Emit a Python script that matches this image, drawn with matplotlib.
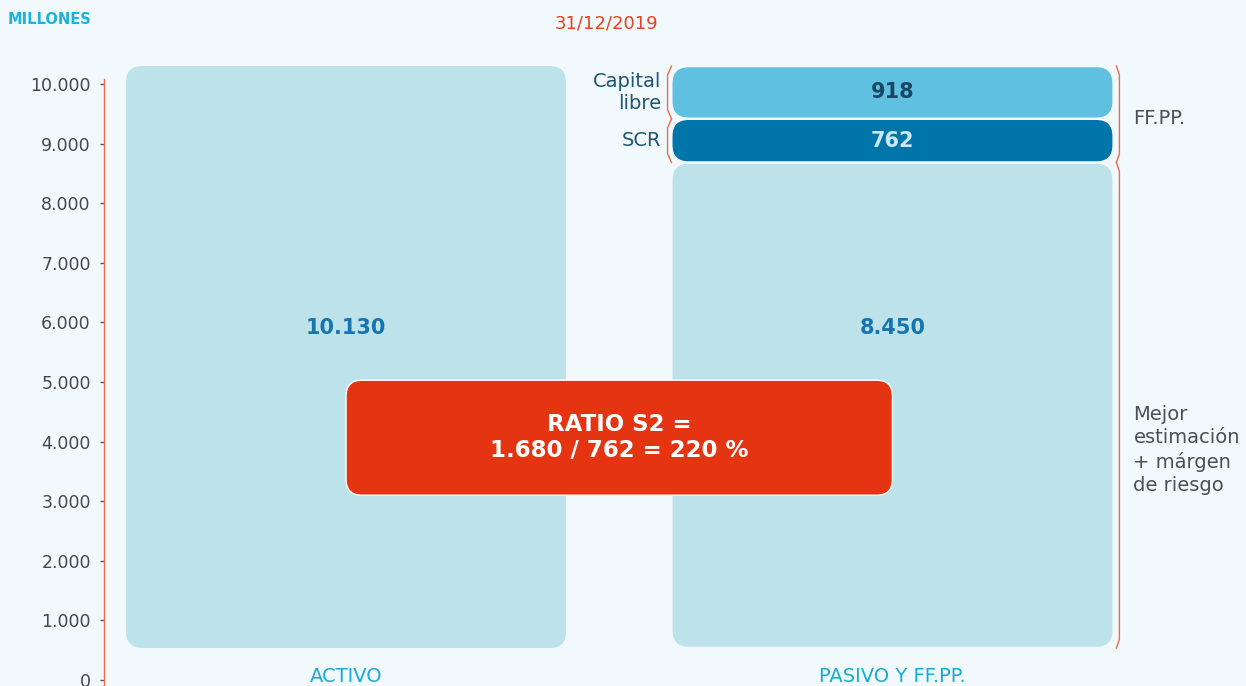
import matplotlib.pyplot as plt
from matplotlib.patches import FancyBboxPatch

# datos (millones de euros) a 31/12/2019
categories = ['ACTIVO', 'PASIVO Y FF.PP.']
activo = 10130
pasivo_names = ['Mejor estimación', 'SCR', 'Capital libre']
pasivo_vals = [8450, 762, 918]
y_ticks = [0, 1000, 2000, 3000, 4000, 5000, 6000, 7000, 8000, 9000, 10000]

BG = '#f2f9fc'
LIGHT = '#bee2ea'
seg_colors = [LIGHT, '#0075aa', '#5fc1df']
seg_text = ['#1675b0', '#c9e8f2', '#1b4766']
RED = '#e53411'


def fmt(v):
    return f"{v:,}".replace(',', '.')


plt.rcParams['font.family'] = ['DejaVu Sans']

fig = plt.figure(figsize=(12.46, 6.86), dpi=100, facecolor=BG)
ax = fig.add_axes([104 / 1246, 6 / 686, 1142 / 1246, 680 / 686])
ax.set_facecolor(BG)
ax.set_xlim(-0.443, 1.647)
ax.set_ylim(0, 11409)
ax.set_yticks(y_ticks)
ax.set_yticklabels([fmt(t) for t in y_ticks])
ax.tick_params(axis='y', length=3, width=1, color='#555555', pad=6.5,
               labelsize=12.5, labelcolor='#474747')
ax.set_xticks([])
for s in ['top', 'right', 'bottom']:
    ax.spines[s].set_visible(False)
ax.spines['left'].set_color('#f06a4b')
ax.spines['left'].set_linewidth(1)
ax.spines['left'].set_bounds(-100, 10080)

# eje propio de las barras (infografía)
axb = ax.twinx()
axb.set_ylim(-557, 11279)
axb.axis('off')
T = ax.transData

W = 0.805
GAP = 2.5  # px


def units_per_px(a):
    inv = a.transData.inverted()
    p0 = inv.transform((0, 0))
    p1 = inv.transform((1, 1))
    return p1[0] - p0[0], p1[1] - p0[1]


xu, yu = units_per_px(axb)
_, yu_t = units_per_px(ax)
R = 16  # px de redondeo


def rbox(a, x0, y0, w, h, color, yunit, **kw):
    p = FancyBboxPatch((x0, y0), w, h,
                       boxstyle=f"round,pad=0,rounding_size={R * xu}",
                       mutation_aspect=yunit / xu, facecolor=color,
                       edgecolor=kw.pop('edgecolor', 'none'), **kw)
    a.add_patch(p)
    return p


# barra activo
rbox(axb, 0 - W / 2, 0, W, activo, LIGHT, yu)
axb.text(0, 5900, fmt(activo), transform=T, ha='center', va='center',
         fontsize=15, fontweight='bold', color=seg_text[0], zorder=4)

# barra pasivo apilada
bottom = 0
centers = []
for name, v, c, tc in zip(pasivo_names, pasivo_vals, seg_colors, seg_text):
    g = GAP * yu / 2
    rbox(axb, 1 - W / 2, bottom + g, W, v - 2 * g, c, yu)
    centers.append(bottom + v / 2)
    if name == pasivo_names[0]:
        axb.text(1, 5900, fmt(v), transform=T, ha='center', va='center',
                 fontsize=15, fontweight='bold', color=tc, zorder=4)
    else:
        axb.text(1, bottom + v / 2, fmt(v), ha='center', va='center',
                 fontsize=15, fontweight='bold', color=tc, zorder=4)
    bottom += v

# etiquetas de categorias
for i, c in enumerate(categories):
    axb.text(i, 67, c, transform=T, ha='center', va='center', fontsize=14,
             color='#16abd6')


# llaves
def paren(x_in, x_out, y0, y1):
    inv = axb.transData.inverted()
    a = axb.transData.transform((x_in, y0))
    b = axb.transData.transform((x_in, y1))
    xo = a[0] + (x_out - x_in) * (1 / xu)
    pts = [(a[0], a[1]), (xo, a[1] + 9), (xo, b[1] - 9), (b[0], b[1])]
    pts = inv.transform(pts)
    axb.plot(pts[:, 0], pts[:, 1], color='#f06a4b', lw=1, clip_on=False)


xl_in = 1 - W / 2 - 1 * xu
xl_out = 1 - W / 2 - 5 * xu
xr_in = 1 + W / 2 + 4 * xu
xr_out = 1 + W / 2 + 7 * xu
b1 = pasivo_vals[0]
b2 = b1 + pasivo_vals[1]
b3 = b2 + pasivo_vals[2]
paren(xl_in, xl_out, b2, b3)
paren(xl_in, xl_out, b1, b2)
paren(xr_in, xr_out, b1, b3)
paren(xr_in, xr_out, 0, b1)

left_lbl = '#1f5575'
axb.text(1 - W / 2 - 11 * xu, centers[2], 'Capital\nlibre', ha='right',
         va='center', fontsize=14, color=left_lbl, linespacing=1.25)
axb.text(1 - W / 2 - 11 * xu, centers[1], 'SCR', ha='right', va='center',
         fontsize=14, color=left_lbl)
axb.text(1 + W / 2 + 21 * xu, b2, 'FF.PP.', ha='left',
         va='center', fontsize=14, color='#4a4f54')
axb.text(1 + W / 2 + 21 * xu, 3860, 'Mejor\nestimación\n+ márgen\nde riesgo',
         transform=T, ha='left', va='center', fontsize=14, color='#4a4f54',
         linespacing=1.3)

# recuadro del ratio
fondos = pasivo_vals[1] + pasivo_vals[2]
scr = pasivo_vals[1]
ratio = round(fondos / scr * 100)
rbox(axb, 0, 3100, 1, 1930, RED, yu_t, edgecolor='white', linewidth=1,
     transform=T, zorder=5)
ratio_txt = f"RATIO S2 =\n{fmt(fondos)} / {scr} = {ratio} %"
axb.text(0.5, 4070, ratio_txt, transform=T, ha='center', va='center',
         fontsize=16.5, fontweight='bold', color='white', zorder=6,
         linespacing=1.15)

fig.text(8 / 1246, 1 - 20 / 686, 'MILLONES', ha='left', va='center',
         fontsize=10.5, fontweight='bold', color='#1bb3dd')
fig.text(606 / 1246, 1 - 23 / 686, '31/12/2019', ha='center', va='center',
         fontsize=13, color='#e5401f')

fig.savefig('out.png', dpi=100, facecolor=BG)
